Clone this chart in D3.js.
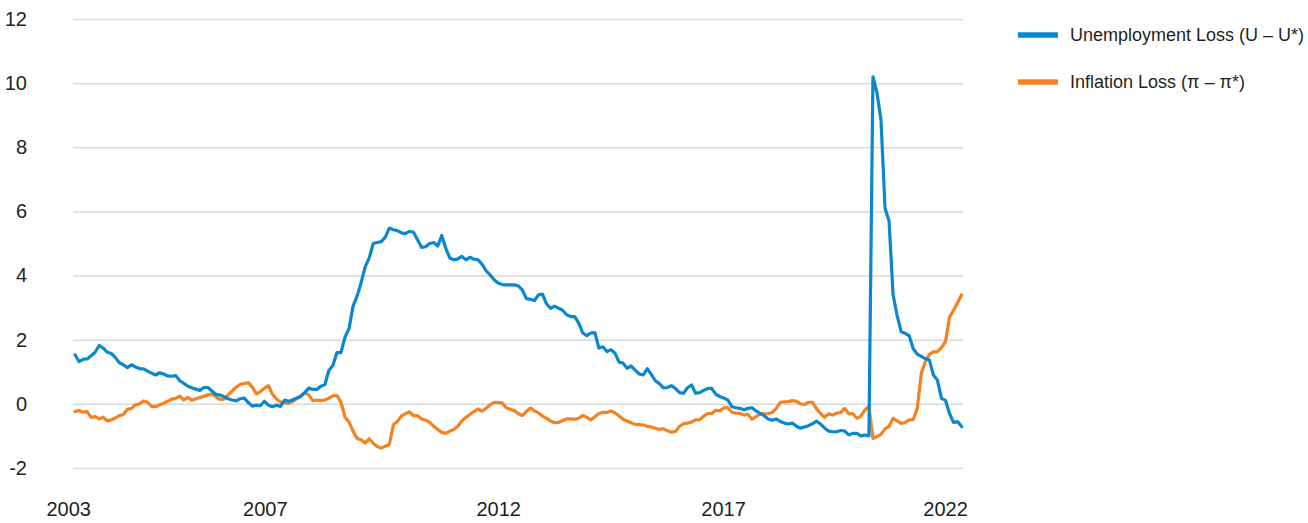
<!DOCTYPE html>
<html>
<head>
<meta charset="utf-8">
<script src="https://cdn.jsdelivr.net/npm/d3@7"></script>
<style>
  html, body { margin: 0; padding: 0; background: #fff; }
  svg { display: block; font-family: "Liberation Sans", Arial, sans-serif; }
</style>
</head>
<body>
<svg id="chart" width="1308" height="523"></svg>
<script>
// ---- Data (monthly observations, index 0 = first month) ----
const seriesNames = ["Unemployment Loss (U \u2013 U*)", "Inflation Loss (\u03c0 \u2013 \u03c0*)"];
const seriesColors = ["#0a88cf", "#f58220"];

const unemploymentLoss = [
  1.53, 1.32, 1.39, 1.40, 1.50, 1.61, 1.82, 1.74, 1.61, 1.57, 1.45,
  1.28, 1.22, 1.13, 1.22, 1.15, 1.10, 1.09, 1.02, 0.96, 0.90,
  0.97, 0.93, 0.87, 0.86, 0.88, 0.72, 0.64, 0.55, 0.50, 0.46,
  0.42, 0.51, 0.51, 0.40, 0.29, 0.28, 0.22, 0.16, 0.12, 0.09,
  0.16, 0.18, 0.04, -0.07, -0.04, -0.06, 0.08, -0.04, -0.09, -0.04,
  -0.08, 0.12, 0.08, 0.12, 0.18, 0.23, 0.35, 0.49, 0.45, 0.45,
  0.55, 0.60, 1.04, 1.20, 1.60, 1.60, 2.08, 2.35, 3.05, 3.36,
  3.78, 4.27, 4.55, 5.00, 5.03, 5.06, 5.20, 5.48, 5.43, 5.40,
  5.33, 5.31, 5.38, 5.35, 5.12, 4.88, 4.90, 5.00, 5.03, 4.92,
  5.25, 4.85, 4.55, 4.49, 4.52, 4.60, 4.49, 4.57, 4.51, 4.49,
  4.36, 4.15, 4.02, 3.87, 3.77, 3.72, 3.71, 3.71, 3.71, 3.68,
  3.55, 3.28, 3.26, 3.22, 3.40, 3.42, 3.12, 2.98, 3.05, 2.98,
  2.92, 2.78, 2.72, 2.72, 2.52, 2.21, 2.13, 2.21, 2.22, 1.74,
  1.78, 1.63, 1.69, 1.58, 1.30, 1.27, 1.11, 1.18, 1.05, 0.93,
  0.90, 1.10, 0.92, 0.72, 0.63, 0.50, 0.51, 0.57, 0.48, 0.35,
  0.33, 0.50, 0.59, 0.33, 0.35, 0.42, 0.48, 0.48, 0.30, 0.23,
  0.18, 0.12, -0.09, -0.12, -0.14, -0.19, -0.14, -0.12, -0.22, -0.30,
  -0.37, -0.47, -0.51, -0.47, -0.55, -0.60, -0.63, -0.60, -0.70, -0.76,
  -0.72, -0.68, -0.62, -0.54, -0.63, -0.75, -0.85, -0.87, -0.87, -0.83,
  -0.85, -0.97, -0.92, -0.92, -1.00, -0.97, -1.00, 10.20, 9.70, 8.85,
  6.10, 5.70, 3.40, 2.75, 2.25, 2.20, 2.12, 1.72, 1.55, 1.48,
  1.41, 1.37, 0.90, 0.74, 0.17, 0.11, -0.30, -0.58, -0.55, -0.71
];

const inflationLoss = [
  -0.24, -0.21, -0.26, -0.24, -0.42, -0.40, -0.47, -0.42, -0.53, -0.50, -0.44,
  -0.37, -0.33, -0.17, -0.14, -0.03, 0.00, 0.09, 0.05, -0.08, -0.09,
  -0.03, 0.02, 0.08, 0.15, 0.17, 0.24, 0.12, 0.20, 0.11, 0.16,
  0.20, 0.24, 0.28, 0.31, 0.22, 0.14, 0.15, 0.28, 0.40, 0.52,
  0.61, 0.63, 0.66, 0.52, 0.31, 0.38, 0.49, 0.57, 0.30, 0.15,
  0.06, 0.02, 0.02, 0.07, 0.16, 0.25, 0.35, 0.28, 0.10, 0.12,
  0.10, 0.12, 0.18, 0.25, 0.26, 0.05, -0.42, -0.57, -0.85, -1.08,
  -1.12, -1.22, -1.09, -1.23, -1.33, -1.38, -1.32, -1.27, -0.65, -0.55,
  -0.38, -0.30, -0.25, -0.37, -0.37, -0.47, -0.51, -0.58, -0.70, -0.80,
  -0.89, -0.92, -0.85, -0.80, -0.70, -0.53, -0.42, -0.33, -0.24, -0.16,
  -0.23, -0.14, -0.03, 0.05, 0.04, 0.03, -0.12, -0.17, -0.21, -0.30,
  -0.37, -0.24, -0.13, -0.22, -0.28, -0.38, -0.45, -0.53, -0.59, -0.58,
  -0.52, -0.47, -0.47, -0.48, -0.45, -0.36, -0.42, -0.50, -0.40, -0.30,
  -0.26, -0.27, -0.22, -0.28, -0.38, -0.48, -0.54, -0.59, -0.64, -0.65,
  -0.66, -0.70, -0.72, -0.76, -0.80, -0.77, -0.84, -0.88, -0.86, -0.70,
  -0.62, -0.60, -0.57, -0.50, -0.50, -0.38, -0.30, -0.30, -0.20, -0.22,
  -0.13, -0.12, -0.26, -0.29, -0.30, -0.35, -0.33, -0.48, -0.40, -0.31,
  -0.31, -0.30, -0.27, -0.15, 0.05, 0.06, 0.07, 0.10, 0.08, 0.00,
  -0.02, 0.05, 0.05, -0.15, -0.30, -0.42, -0.31, -0.35, -0.29, -0.27,
  -0.14, -0.31, -0.30, -0.45, -0.38, -0.19, -0.08, -1.08, -1.02, -0.95,
  -0.78, -0.70, -0.45, -0.53, -0.61, -0.58, -0.50, -0.49, -0.14, 0.95,
  1.31, 1.54, 1.62, 1.63, 1.75, 1.94, 2.70, 2.92, 3.15, 3.40
];

// x-axis labels and the month index at which each is placed
const xTickLabels = ["2003", "2007", "2012", "2017", "2022"];
const xTickIndex = [-1.7, 47.1, 105.0, 160.8, 215.9];

// y-axis ticks
const yTicks = [-2, 0, 2, 4, 6, 8, 10, 12];

// ---- Layout ----
const svg = d3.select("#chart");
const gridLeft = 73, gridRight = 963;
const plotTop = 19, plotBottom = 468;
const dataLeft = 75, dataRight = 961.6;

const x = d3.scaleLinear().domain([0, unemploymentLoss.length - 1]).range([dataLeft, dataRight]);
const y = d3.scaleLinear().domain([-2, 12]).range([plotBottom, plotTop]);

const textColor = "#231f20";

// Y axis with gridlines
const yAxis = d3.axisLeft(y)
  .tickValues(yTicks)
  .tickSize(-(gridRight - gridLeft))
  .tickPadding(46)
  .tickFormat(d => String(d));

const gy = svg.append("g")
  .attr("transform", `translate(${gridLeft},0)`)
  .call(yAxis);
gy.select(".domain").remove();
gy.selectAll(".tick line").attr("stroke", "#d9d9d9").attr("stroke-width", 1.5);
gy.selectAll(".tick text")
  .attr("fill", textColor)
  .style("font-size", "20px");

// X axis labels
const xAxis = d3.axisBottom(x)
  .tickValues(xTickIndex)
  .tickSize(0)
  .tickPadding(34)
  .tickFormat((d, i) => xTickLabels[i]);
const gx = svg.append("g")
  .attr("transform", `translate(0,${plotBottom})`)
  .call(xAxis);
gx.select(".domain").remove();
gx.selectAll(".tick text")
  .attr("fill", textColor)
  .style("font-size", "20px");

// Lines
const line = d3.line()
  .x((d, i) => x(i))
  .y(d => y(d));

const allSeries = [unemploymentLoss, inflationLoss];
svg.append("g").selectAll("path")
  .data([1, 0])
  .join("path")
  .attr("d", k => line(allSeries[k]))
  .attr("fill", "none")
  .attr("stroke", k => seriesColors[k])
  .attr("stroke-width", 3.2)
  .attr("stroke-linejoin", "round")
  .attr("stroke-linecap", "round");

// Legend
const legend = svg.append("g").attr("transform", "translate(1018,35)");
const items = legend.selectAll("g")
  .data(seriesNames)
  .join("g")
  .attr("transform", (d, i) => `translate(0,${i * 47})`);
items.append("line")
  .attr("x1", 0).attr("x2", 40)
  .attr("y1", 0).attr("y2", 0)
  .attr("stroke", (d, i) => seriesColors[i])
  .attr("stroke-width", 5.5);
items.append("text")
  .attr("x", 52)
  .attr("y", 0)
  .attr("dy", "0.35em")
  .attr("fill", textColor)
  .style("font-size", "18px")
  .text(d => d);
</script>
</body>
</html>
